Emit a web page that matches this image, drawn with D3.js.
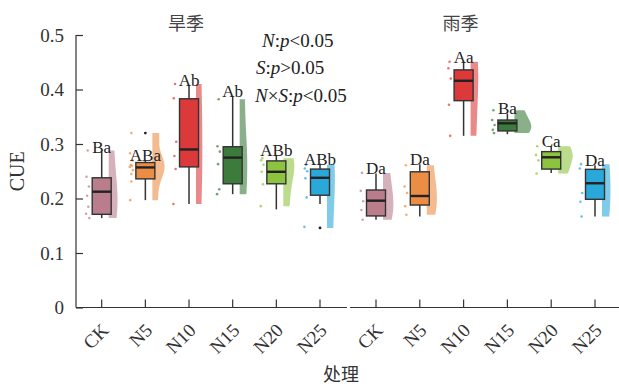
<!DOCTYPE html>
<html>
<head>
<meta charset="utf-8">
<script src="https://cdn.jsdelivr.net/npm/d3@7"></script>
<style>
  body { margin: 0; background: #fff; }
  svg { display: block; }
</style>
</head>
<body>
<svg id="chart" width="619" height="387"></svg>
<script>
// Treatments and seasons
const treatments = ["CK", "N5", "N10", "N15", "N20", "N25"];
const seasons = ["旱季", "雨季"];
const treatmentColors = ["#b97d8b", "#ec8d46", "#dc3a3a", "#3c7b3b", "#8cc43f", "#29a8d9"];

// Box statistics per treatment: [lower whisker, Q1, median, Q3, upper whisker]
const dryBox = [
  [0.164, 0.171, 0.2125, 0.238, 0.286],
  [0.197, 0.236, 0.257, 0.266, 0.270],
  [0.190, 0.258, 0.290, 0.383, 0.408],
  [0.208, 0.227, 0.275, 0.295, 0.388],
  [0.180, 0.227, 0.249, 0.269, 0.280],
  [0.190, 0.206, 0.238, 0.254, 0.264]
];
const wetBox = [
  [0.161, 0.168, 0.196, 0.2156, 0.246],
  [0.167, 0.188, 0.2046, 0.249, 0.263],
  [0.315, 0.3795, 0.416, 0.436, 0.451],
  [0.318, 0.324, 0.338, 0.344, 0.356],
  [0.247, 0.254, 0.2756, 0.286, 0.296],
  [0.167, 0.1985, 0.228, 0.2535, 0.261]
];

// Individual CUE observations per treatment
const dryPoints = [
  [0.288, 0.240, 0.222, 0.205, 0.185, 0.172, 0.164],
  [0.320, 0.283, 0.270, 0.262, 0.260, 0.258, 0.252, 0.245, 0.231, 0.197],
  [0.410, 0.384, 0.304, 0.278, 0.254, 0.190],
  [0.382, 0.296, 0.286, 0.263, 0.217, 0.208],
  [0.274, 0.270, 0.262, 0.249, 0.226, 0.186],
  [0.262, 0.255, 0.250, 0.237, 0.202, 0.148]
];
const wetPoints = [
  [0.247, 0.214, 0.195, 0.179, 0.161],
  [0.261, 0.222, 0.210, 0.186, 0.170],
  [0.451, 0.439, 0.420, 0.372, 0.315],
  [0.362, 0.344, 0.335, 0.326, 0.320],
  [0.296, 0.280, 0.270, 0.246],
  [0.263, 0.255, 0.210, 0.194, 0.167]
];

// Outliers beyond the whiskers
const dryOutliers = [[], [0.320], [], [], [], [0.146]];
const wetOutliers = [[], [], [], [], [], []];

// Significance letters
const dryLetters = ["Ba", "ABa", "Ab", "Ab", "ABb", "ABb"];
const wetLetters = ["Da", "Da", "Aa", "Ba", "Ca", "Da"];

const yTicks = [0, 0.1, 0.2, 0.3, 0.4, 0.5];
const yTickLabels = ["0", "0.1", "0.2", "0.3", "0.4", "0.5"];

const serif = "'Liberation Serif', 'Times New Roman', serif";
const cjk = "'Noto Sans CJK SC', sans-serif";
const ink = "#333";

const svg = d3.select("#chart");

const y = d3.scaleLinear().domain([0, 0.5]).range([307.5, 35]);

const panels = [
  { title: seasons[0], box: dryBox, pts: dryPoints, out: dryOutliers, letters: dryLetters,
    x: d3.scalePoint().domain(treatments).range([101.7, 320]), axis: [76, 347] },
  { title: seasons[1], box: wetBox, pts: wetPoints, out: wetOutliers, letters: wetLetters,
    x: d3.scalePoint().domain(treatments).range([376, 595]), axis: [350, 619] }
];

// Gaussian kernel density with R's bw.nrd0 bandwidth (times an adjust factor)
const bwAdjust = 1.5;
function kde(values) {
  const v = values.slice().sort(d3.ascending);
  const n = v.length;
  const sd = d3.deviation(v);
  const iqr = (d3.quantile(v, 0.75) - d3.quantile(v, 0.25)) / 1.34;
  const bw = bwAdjust * 0.9 * Math.min(sd, iqr > 0 ? iqr : sd) * Math.pow(n, -0.2);
  const lo = v[0], hi = v[n - 1];
  const grid = d3.range(0, 41).map(i => lo + (hi - lo) * i / 40);
  return grid.map(g => [g, d3.mean(v, d => Math.exp(-0.5 * ((g - d) / bw) ** 2)) / (bw * Math.sqrt(2 * Math.PI))]);
}
// half-violin width: a thin base strip plus density
const violinBase = 4;
const violinScale = 0.65; // px per unit density

const jitter = [0, -1.2, 1.2, -0.6, 0.6, -1.6, 1.6, 0];

// Y axis (left panel only)
const yAxis = svg.append("g").attr("transform", "translate(76,0)")
  .call(d3.axisRight(y).tickValues(yTicks).tickSize(7).tickFormat((d, i) => yTickLabels[i]));
yAxis.select(".domain").remove();
yAxis.selectAll(".tick line").attr("stroke", ink).attr("stroke-width", 1.2);
yAxis.selectAll(".tick text").attr("x", -12).attr("text-anchor", "end")
  .attr("font-family", serif).attr("font-size", 19).attr("fill", ink).attr("dy", "0.34em");
svg.append("line").attr("x1", 76).attr("x2", 76).attr("y1", y(0.5)).attr("y2", y(0))
  .attr("stroke", ink).attr("stroke-width", 1.2);

svg.append("text").attr("transform", `translate(24,${y(0.25)}) rotate(-90)`)
  .attr("text-anchor", "middle").attr("font-family", serif).attr("font-size", 20)
  .attr("fill", ink).text("CUE");

panels.forEach(p => {
  const g = svg.append("g");
  const x = p.x;

  // x axis
  g.append("line").attr("x1", p.axis[0]).attr("x2", p.axis[1]).attr("y1", y(0)).attr("y2", y(0))
    .attr("stroke", ink).attr("stroke-width", 1.2);
  treatments.forEach(t => {
    g.append("line").attr("x1", x(t)).attr("x2", x(t)).attr("y1", y(0)).attr("y2", y(0) - 8)
      .attr("stroke", ink).attr("stroke-width", 1.2);
    g.append("text").attr("transform", `translate(${x(t) + 8},${y(0) + 24}) rotate(-45)`)
      .attr("text-anchor", "end").attr("font-family", serif).attr("font-size", 19)
      .attr("fill", ink).text(t);
  });

  // season title
  g.append("text").attr("x", x("N10") - 3).attr("y", 30).attr("text-anchor", "middle")
    .attr("font-family", cjk).attr("font-size", 18).attr("fill", "#444").text(p.title);

  treatments.forEach((t, i) => {
    const cx = x(t);
    const col = treatmentColors[i];
    const [lo, q1, med, q3, hi] = p.box[i];

    // half violin on the right
    const dens = kde(p.pts[i].concat(p.out[i]));
    const area = d3.area().curve(d3.curveBasis)
      .y(d => y(d[0])).x0(cx + 7).x1(d => cx + 7 + violinBase + d[1] * violinScale);
    g.append("path").datum(dens).attr("d", area).attr("fill", col).attr("fill-opacity", 0.6);

    // jittered observations on the left
    p.pts[i].forEach((v, j) => {
      g.append("circle").attr("cx", cx - 14 + jitter[j % jitter.length]).attr("cy", y(v))
        .attr("r", 1.3).attr("fill", col).attr("fill-opacity", 0.7);
    });

    // whisker
    g.append("line").attr("x1", cx).attr("x2", cx).attr("y1", y(lo)).attr("y2", y(hi))
      .attr("stroke", ink).attr("stroke-width", 1.5);
    // box
    g.append("rect").attr("x", cx - 9.5).attr("width", 19).attr("y", y(q3)).attr("height", y(q1) - y(q3))
      .attr("fill", col).attr("stroke", ink).attr("stroke-width", 1.4);
    // median
    g.append("line").attr("x1", cx - 9.5).attr("x2", cx + 9.5).attr("y1", y(med)).attr("y2", y(med))
      .attr("stroke", "#222").attr("stroke-width", 2.4);

    // outliers
    p.out[i].forEach(v => {
      g.append("circle").attr("cx", cx).attr("cy", y(v)).attr("r", 1.4).attr("fill", "#222");
    });

    // significance letters
    g.append("text").attr("x", cx).attr("y", y(hi) + 1).attr("text-anchor", "middle")
      .attr("font-family", serif).attr("font-size", 17).attr("fill", "#222").text(p.letters[i]);
  });
});

// x axis title
svg.append("text").attr("x", 341).attr("y", 381).attr("text-anchor", "middle")
  .attr("font-family", cjk).attr("font-size", 18).attr("fill", ink).text("处理");

// two-way ANOVA summary
const stats = [
  { x: 262, y: 47, parts: [["N", true], [":", false], ["p", true], ["<0.05", false]] },
  { x: 256, y: 74, parts: [["S", true], [":", false], ["p", true], [">0.05", false]] },
  { x: 255, y: 102, parts: [["N", true], ["×", false], ["S", true], [":", false], ["p", true], ["<0.05", false]] }
];
stats.forEach(s => {
  const t = svg.append("text").attr("x", s.x).attr("y", s.y)
    .attr("font-family", serif).attr("font-size", 19).attr("fill", "#222");
  s.parts.forEach(([txt, it]) => {
    t.append("tspan").attr("font-style", it ? "italic" : "normal").text(txt);
  });
});
</script>
</body>
</html>
